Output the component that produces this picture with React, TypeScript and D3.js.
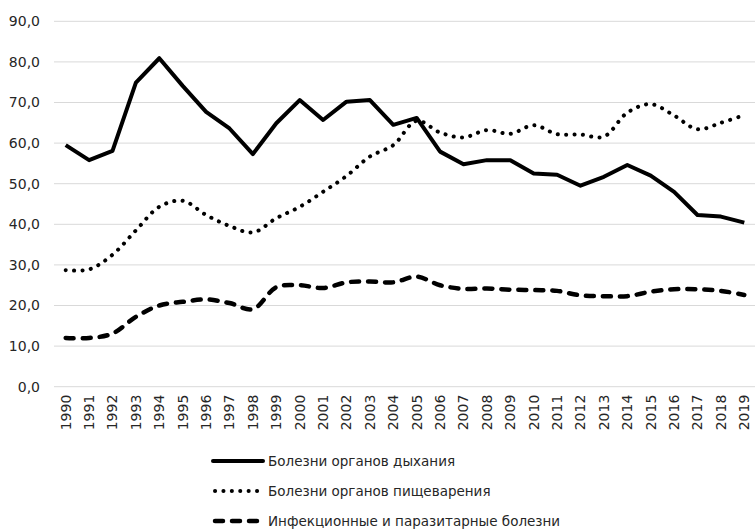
import React, { useRef, useEffect } from 'react';
import * as d3 from 'd3';

const years = [
  '1990', '1991', '1992', '1993', '1994', '1995', '1996', '1997', '1998', '1999',
  '2000', '2001', '2002', '2003', '2004', '2005', '2006', '2007', '2008', '2009',
  '2010', '2011', '2012', '2013', '2014', '2015', '2016', '2017', '2018', '2019',
];

const respiratory = [
  59.5, 55.8, 58.1, 74.9, 80.9, 74.1, 67.7, 63.6, 57.3, 64.9,
  70.6, 65.7, 70.2, 70.6, 64.5, 66.2, 57.9, 54.8, 55.8, 55.8,
  52.5, 52.2, 49.5, 51.7, 54.6, 52.0, 48.0, 42.3, 41.9, 40.4,
];

const digestive = [
  28.7, 28.9, 32.5, 38.5, 44.3, 45.8, 42.3, 39.6, 38.0, 41.5,
  44.3, 48.0, 51.9, 56.7, 59.5, 65.5, 62.6, 61.4, 63.2, 62.3,
  64.4, 62.2, 62.1, 61.6, 67.5, 69.6, 66.8, 63.4, 65.0, 66.9,
];

const infectious = [
  12.0, 12.0, 13.1, 17.2, 20.0, 20.9, 21.5, 20.6, 19.1, 24.5,
  25.0, 24.3, 25.7, 25.9, 25.7, 27.1, 25.0, 24.1, 24.2, 23.9,
  23.8, 23.6, 22.5, 22.3, 22.3, 23.4, 24.0, 24.0, 23.6, 22.6,
];

const yTicks = [0, 10, 20, 30, 40, 50, 60, 70, 80, 90];

const seriesNames = [
  'Болезни органов дыхания',
  'Болезни органов пищеварения',
  'Инфекционные и паразитарные болезни',
];

const FONT = '"DejaVu Sans", sans-serif';
const TEXT_COLOR = '#262626';

const App: React.FC = () => {
  const svgRef = useRef<SVGSVGElement>(null);
  const width = 755;
  const height = 530;

  useEffect(() => {
    if (!svgRef.current) return;
    const svg = d3.select(svgRef.current);
    svg.selectAll('*').remove();

    const left = 54;
    const right = 756;
    const top = 21.3;
    const bottom = 386.7;

    const x = d3.scaleBand<string>().domain(years).range([left, right]).padding(0);
    const cx = (d: string) => (x(d) || 0) + x.bandwidth() / 2;
    const y = d3.scaleLinear().domain([0, 90]).range([bottom, top]);

    // gridlines
    svg
      .append('g')
      .selectAll('line')
      .data(yTicks)
      .enter()
      .append('line')
      .attr('x1', left)
      .attr('x2', width)
      .attr('y1', d => y(d))
      .attr('y2', d => y(d))
      .attr('stroke', '#d9d9d9')
      .attr('stroke-width', 1);

    // y labels
    svg
      .append('g')
      .selectAll('text')
      .data(yTicks)
      .enter()
      .append('text')
      .attr('x', 40)
      .attr('y', d => y(d))
      .attr('dy', '0.35em')
      .attr('text-anchor', 'end')
      .attr('font-family', FONT)
      .attr('font-size', '14px')
      .attr('fill', TEXT_COLOR)
      .text(d => d.toFixed(1).replace('.', ','));

    // x labels
    svg
      .append('g')
      .selectAll('text')
      .data(years)
      .enter()
      .append('text')
      .attr('transform', d => `translate(${cx(d)}, ${bottom + 8}) rotate(-90)`)
      .attr('dy', '0.35em')
      .attr('text-anchor', 'end')
      .attr('font-family', FONT)
      .attr('font-size', '14px')
      .attr('fill', TEXT_COLOR)
      .text(d => d);

    const styles = [
      { data: respiratory, dash: null, curve: d3.curveLinear, cap: 'butt', w: 4 },
      { data: digestive, dash: '0.1,8.3', curve: d3.curveCatmullRom.alpha(0.5), cap: 'round', w: 4 },
      { data: infectious, dash: '8,9', curve: d3.curveCatmullRom.alpha(0.5), cap: 'round', w: 4.5 },
    ];

    styles.forEach(s => {
      const line = d3
        .line<number>()
        .x((_, i) => cx(years[i]))
        .y(d => y(d))
        .curve(s.curve);
      svg
        .append('path')
        .datum(s.data)
        .attr('d', line)
        .attr('fill', 'none')
        .attr('stroke', '#000')
        .attr('stroke-width', s.w)
        .attr('stroke-linejoin', 'round')
        .attr('stroke-linecap', s.cap)
        .attr('stroke-dasharray', s.dash);
    });

    // legend
    const legend = svg.append('g');
    seriesNames.forEach((name, i) => {
      const ly = 461 + i * 30;
      const s = styles[i];
      legend
        .append('line')
        .attr('x1', i === 0 ? 213 : 215)
        .attr('x2', 263)
        .attr('y1', ly)
        .attr('y2', ly)
        .attr('stroke', '#000')
        .attr('stroke-width', s.w)
        .attr('stroke-linecap', 'round')
        .attr('stroke-dasharray', s.dash);
      legend
        .append('text')
        .attr('x', 268)
        .attr('y', ly)
        .attr('dy', '0.35em')
        .attr('font-family', FONT)
        .attr('font-size', '13.5px')
        .attr('fill', TEXT_COLOR)
        .text(name);
    });
  }, []);

  return (
    <div style={{ position: 'absolute', left: 0, top: 0 }}>
      <svg ref={svgRef} width={width} height={height} style={{ display: 'block', background: '#fff' }} />
    </div>
  );
};

export default App;
